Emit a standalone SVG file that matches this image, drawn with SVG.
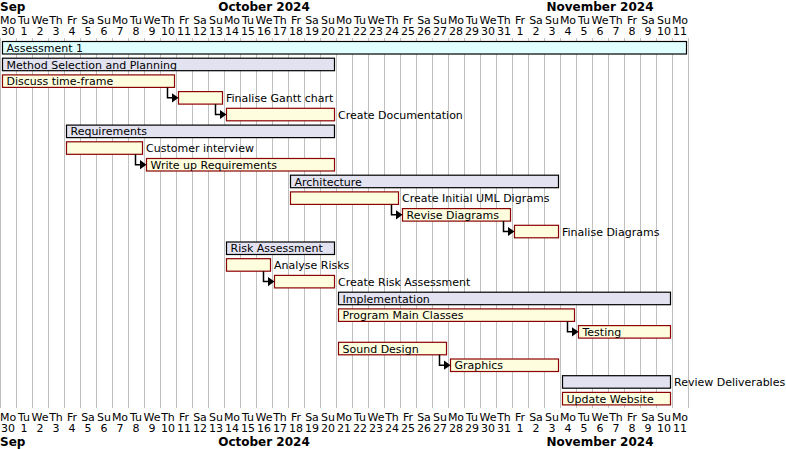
<svg xmlns="http://www.w3.org/2000/svg" width="786" height="449" viewBox="0 0 786 449">
<style>
text{font-family:"DejaVu Sans","Liberation Sans",sans-serif;font-size:11px;fill:#000}
.month{font-size:12px;font-weight:bold}
.day{text-anchor:middle}
.grid{stroke:#C0C0C0;stroke-width:1;fill:none}
.task{fill:#FEFEDF;stroke:#8B0000;stroke-width:1.2}
.group{fill:#E2E2F0;stroke:#000;stroke-width:1.2}
.top{fill:#E0FFFF;stroke:#000;stroke-width:1.2}
.dep{stroke:#000;stroke-width:1.5;fill:none}
.head{fill:#000;stroke:none}
</style>
<rect width="786" height="449" fill="#fff"/>
<g id="grid">
<path class="grid" d="M0.5 38V408M16.5 38V408M32.5 38V408M48.5 38V408M64.5 38V408M80.5 38V408M96.5 38V408M112.5 38V408M128.5 38V408M144.5 38V408M160.5 38V408M176.5 38V408M192.5 38V408M208.5 38V408M224.5 38V408M240.5 38V408M256.5 38V408M272.5 38V408M288.5 38V408M304.5 38V408M320.5 38V408M336.5 38V408M352.5 38V408M368.5 38V408M384.5 38V408M400.5 38V408M416.5 38V408M432.5 38V408M448.5 38V408M464.5 38V408M480.5 38V408M496.5 38V408M512.5 38V408M528.5 38V408M544.5 38V408M560.5 38V408M576.5 38V408M592.5 38V408M608.5 38V408M624.5 38V408M640.5 38V408M656.5 38V408M672.5 38V408M688.5 38V408"/>
</g>
<g id="header-top">
<text class="month" x="0" y="11">Sep</text>
<text class="month" x="264" y="11" text-anchor="middle">October 2024</text>
<text class="month" x="600" y="11" text-anchor="middle">November 2024</text>
<g class="day">
<text x="8" y="23.5">Mo</text><text x="24" y="23.5">Tu</text><text x="40" y="23.5">We</text><text x="56" y="23.5">Th</text><text x="72" y="23.5">Fr</text><text x="88" y="23.5">Sa</text><text x="104" y="23.5">Su</text>
<text x="120" y="23.5">Mo</text><text x="136" y="23.5">Tu</text><text x="152" y="23.5">We</text><text x="168" y="23.5">Th</text><text x="184" y="23.5">Fr</text><text x="200" y="23.5">Sa</text><text x="216" y="23.5">Su</text>
<text x="232" y="23.5">Mo</text><text x="248" y="23.5">Tu</text><text x="264" y="23.5">We</text><text x="280" y="23.5">Th</text><text x="296" y="23.5">Fr</text><text x="312" y="23.5">Sa</text><text x="328" y="23.5">Su</text>
<text x="344" y="23.5">Mo</text><text x="360" y="23.5">Tu</text><text x="376" y="23.5">We</text><text x="392" y="23.5">Th</text><text x="408" y="23.5">Fr</text><text x="424" y="23.5">Sa</text><text x="440" y="23.5">Su</text>
<text x="456" y="23.5">Mo</text><text x="472" y="23.5">Tu</text><text x="488" y="23.5">We</text><text x="504" y="23.5">Th</text><text x="520" y="23.5">Fr</text><text x="536" y="23.5">Sa</text><text x="552" y="23.5">Su</text>
<text x="568" y="23.5">Mo</text><text x="584" y="23.5">Tu</text><text x="600" y="23.5">We</text><text x="616" y="23.5">Th</text><text x="632" y="23.5">Fr</text><text x="648" y="23.5">Sa</text><text x="664" y="23.5">Su</text>
<text x="680" y="23.5">Mo</text>
<text x="8" y="34.5">30</text><text x="24" y="34.5">1</text><text x="40" y="34.5">2</text><text x="56" y="34.5">3</text><text x="72" y="34.5">4</text><text x="88" y="34.5">5</text><text x="104" y="34.5">6</text>
<text x="120" y="34.5">7</text><text x="136" y="34.5">8</text><text x="152" y="34.5">9</text><text x="168" y="34.5">10</text><text x="184" y="34.5">11</text><text x="200" y="34.5">12</text><text x="216" y="34.5">13</text>
<text x="232" y="34.5">14</text><text x="248" y="34.5">15</text><text x="264" y="34.5">16</text><text x="280" y="34.5">17</text><text x="296" y="34.5">18</text><text x="312" y="34.5">19</text><text x="328" y="34.5">20</text>
<text x="344" y="34.5">21</text><text x="360" y="34.5">22</text><text x="376" y="34.5">23</text><text x="392" y="34.5">24</text><text x="408" y="34.5">25</text><text x="424" y="34.5">26</text><text x="440" y="34.5">27</text>
<text x="456" y="34.5">28</text><text x="472" y="34.5">29</text><text x="488" y="34.5">30</text><text x="504" y="34.5">31</text><text x="520" y="34.5">1</text><text x="536" y="34.5">2</text><text x="552" y="34.5">3</text>
<text x="568" y="34.5">4</text><text x="584" y="34.5">5</text><text x="600" y="34.5">6</text><text x="616" y="34.5">7</text><text x="632" y="34.5">8</text><text x="648" y="34.5">9</text><text x="664" y="34.5">10</text>
<text x="680" y="34.5">11</text>
</g>
</g>
<g id="header-bottom">
<g class="day">
<text x="8" y="420.5">Mo</text><text x="24" y="420.5">Tu</text><text x="40" y="420.5">We</text><text x="56" y="420.5">Th</text><text x="72" y="420.5">Fr</text><text x="88" y="420.5">Sa</text><text x="104" y="420.5">Su</text>
<text x="120" y="420.5">Mo</text><text x="136" y="420.5">Tu</text><text x="152" y="420.5">We</text><text x="168" y="420.5">Th</text><text x="184" y="420.5">Fr</text><text x="200" y="420.5">Sa</text><text x="216" y="420.5">Su</text>
<text x="232" y="420.5">Mo</text><text x="248" y="420.5">Tu</text><text x="264" y="420.5">We</text><text x="280" y="420.5">Th</text><text x="296" y="420.5">Fr</text><text x="312" y="420.5">Sa</text><text x="328" y="420.5">Su</text>
<text x="344" y="420.5">Mo</text><text x="360" y="420.5">Tu</text><text x="376" y="420.5">We</text><text x="392" y="420.5">Th</text><text x="408" y="420.5">Fr</text><text x="424" y="420.5">Sa</text><text x="440" y="420.5">Su</text>
<text x="456" y="420.5">Mo</text><text x="472" y="420.5">Tu</text><text x="488" y="420.5">We</text><text x="504" y="420.5">Th</text><text x="520" y="420.5">Fr</text><text x="536" y="420.5">Sa</text><text x="552" y="420.5">Su</text>
<text x="568" y="420.5">Mo</text><text x="584" y="420.5">Tu</text><text x="600" y="420.5">We</text><text x="616" y="420.5">Th</text><text x="632" y="420.5">Fr</text><text x="648" y="420.5">Sa</text><text x="664" y="420.5">Su</text>
<text x="680" y="420.5">Mo</text>
<text x="8" y="432">30</text><text x="24" y="432">1</text><text x="40" y="432">2</text><text x="56" y="432">3</text><text x="72" y="432">4</text><text x="88" y="432">5</text><text x="104" y="432">6</text>
<text x="120" y="432">7</text><text x="136" y="432">8</text><text x="152" y="432">9</text><text x="168" y="432">10</text><text x="184" y="432">11</text><text x="200" y="432">12</text><text x="216" y="432">13</text>
<text x="232" y="432">14</text><text x="248" y="432">15</text><text x="264" y="432">16</text><text x="280" y="432">17</text><text x="296" y="432">18</text><text x="312" y="432">19</text><text x="328" y="432">20</text>
<text x="344" y="432">21</text><text x="360" y="432">22</text><text x="376" y="432">23</text><text x="392" y="432">24</text><text x="408" y="432">25</text><text x="424" y="432">26</text><text x="440" y="432">27</text>
<text x="456" y="432">28</text><text x="472" y="432">29</text><text x="488" y="432">30</text><text x="504" y="432">31</text><text x="520" y="432">1</text><text x="536" y="432">2</text><text x="552" y="432">3</text>
<text x="568" y="432">4</text><text x="584" y="432">5</text><text x="600" y="432">6</text><text x="616" y="432">7</text><text x="632" y="432">8</text><text x="648" y="432">9</text><text x="664" y="432">10</text>
<text x="680" y="432">11</text>
</g>
<text class="month" x="0" y="445.5">Sep</text>
<text class="month" x="264" y="445.5" text-anchor="middle">October 2024</text>
<text class="month" x="600" y="445.5" text-anchor="middle">November 2024</text>
</g>
<g id="assessment-1"><rect class="top" x="2.5" y="41.5" width="684" height="12.5"/><text x="6.5" y="51.8">Assessment 1</text></g>
<g id="method-selection"><rect class="group" x="2.5" y="58.2" width="332" height="12.5"/><text x="6.5" y="68.5">Method Selection and Planning</text></g>
<g id="discuss-time-frame"><rect class="task" x="2.5" y="74.9" width="172" height="12.5"/><text x="6.5" y="85.2">Discuss time-frame</text></g>
<g id="finalise-gantt"><rect class="task" x="178.5" y="91.6" width="44" height="12.5"/><text x="226" y="101.9">Finalise Gantt chart</text></g>
<g id="create-documentation"><rect class="task" x="226.5" y="108.3" width="108" height="12.5"/><text x="338" y="118.6">Create Documentation</text></g>
<g id="requirements"><rect class="group" x="66.5" y="125.1" width="268" height="12.5"/><text x="70.5" y="135.4">Requirements</text></g>
<g id="customer-interview"><rect class="task" x="66.5" y="141.8" width="76" height="12.5"/><text x="146" y="152.1">Customer interview</text></g>
<g id="write-up-requirements"><rect class="task" x="146.5" y="158.5" width="188" height="12.5"/><text x="150.5" y="168.8">Write up Requirements</text></g>
<g id="architecture"><rect class="group" x="290.5" y="175.2" width="268" height="12.5"/><text x="294.5" y="185.5">Architecture</text></g>
<g id="create-initial-uml"><rect class="task" x="290.5" y="191.9" width="108" height="12.5"/><text x="402" y="202.2">Create Initial UML Digrams</text></g>
<g id="revise-diagrams"><rect class="task" x="402.5" y="208.6" width="108" height="12.5"/><text x="406.5" y="218.9">Revise Diagrams</text></g>
<g id="finalise-diagrams"><rect class="task" x="514.5" y="225.3" width="44" height="12.5"/><text x="562" y="235.6">Finalise Diagrams</text></g>
<g id="risk-assessment"><rect class="group" x="226.5" y="242" width="108" height="12.5"/><text x="230.5" y="252.3">Risk Assessment</text></g>
<g id="analyse-risks"><rect class="task" x="226.5" y="258.7" width="44" height="12.5"/><text x="274" y="269">Analyse Risks</text></g>
<g id="create-risk-assessment"><rect class="task" x="274.5" y="275.4" width="60" height="12.5"/><text x="338" y="285.7">Create Risk Assessment</text></g>
<g id="implementation"><rect class="group" x="338.5" y="292.2" width="332" height="12.5"/><text x="342.5" y="302.5">Implementation</text></g>
<g id="program-main-classes"><rect class="task" x="338.5" y="308.9" width="236" height="12.5"/><text x="342.5" y="319.2">Program Main Classes</text></g>
<g id="testing"><rect class="task" x="578.5" y="325.6" width="92" height="12.5"/><text x="582.5" y="335.9">Testing</text></g>
<g id="sound-design"><rect class="task" x="338.5" y="342.3" width="108" height="12.5"/><text x="342.5" y="352.6">Sound Design</text></g>
<g id="graphics"><rect class="task" x="450.5" y="359" width="108" height="12.5"/><text x="454.5" y="369.3">Graphics</text></g>
<g id="review-deliverables"><rect class="group" x="562.5" y="375.7" width="108" height="12.5"/><text x="674" y="386">Review Deliverables</text></g>
<g id="update-website"><rect class="task" x="562.5" y="392.4" width="108" height="12.5"/><text x="566.5" y="402.7">Update Website</text></g>
<g id="connectors">
<path class="dep" d="M167.5 87.4V97.8H173"/><polygon class="head" points="172,93.2 178.5,97.8 172,102.4"/>
<path class="dep" d="M215.5 104.1V114.5H221"/><polygon class="head" points="220,109.9 226.5,114.5 220,119.1"/>
<path class="dep" d="M135.5 154.3V164.7H141"/><polygon class="head" points="140,160.1 146.5,164.7 140,169.3"/>
<path class="dep" d="M391.5 204.4V214.8H397"/><polygon class="head" points="396,210.2 402.5,214.8 396,219.4"/>
<path class="dep" d="M503.5 221.1V231.5H509"/><polygon class="head" points="508,226.9 514.5,231.5 508,236.1"/>
<path class="dep" d="M263.5 271.2V281.6H269"/><polygon class="head" points="268,277 274.5,281.6 268,286.2"/>
<path class="dep" d="M567.5 321.4V331.8H573"/><polygon class="head" points="572,327.2 578.5,331.8 572,336.4"/>
<path class="dep" d="M439.5 354.8V365.2H445"/><polygon class="head" points="444,360.6 450.5,365.2 444,369.8"/>
</g>
</svg>
